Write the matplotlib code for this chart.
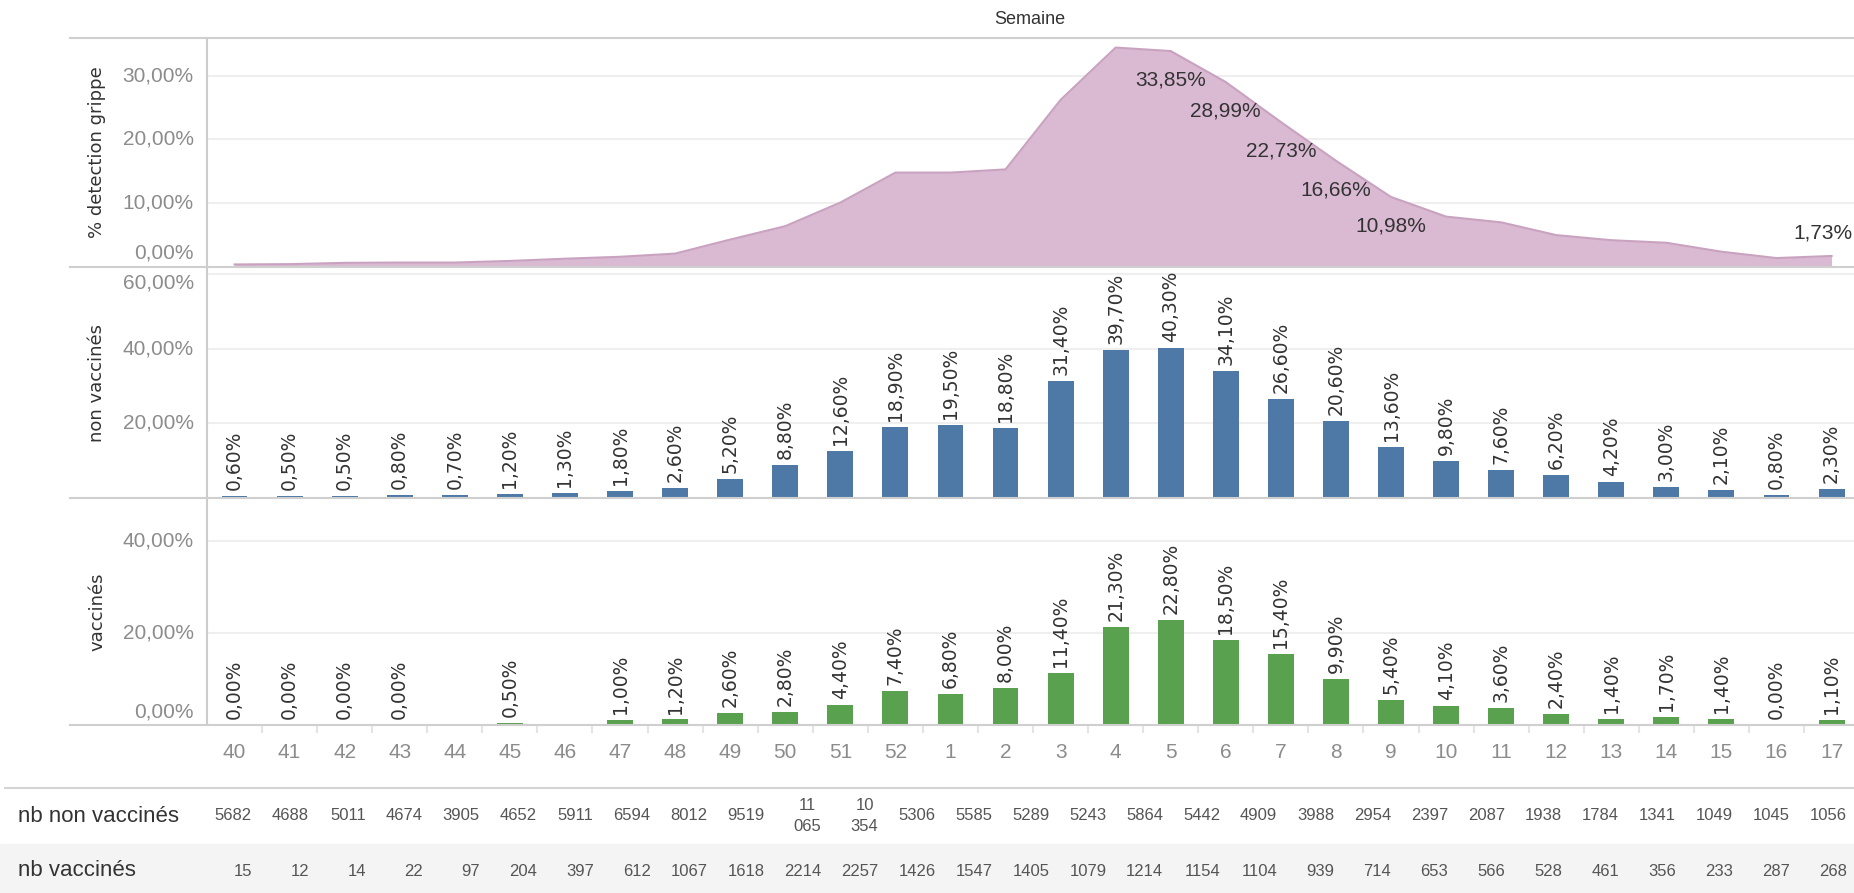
import numpy as np
import matplotlib
matplotlib.use('Agg')
from matplotlib import pyplot as plt
from matplotlib.lines import Line2D
from matplotlib.patches import Rectangle

# semaines (axe commun des trois graphes)
weeks = ['40', '41', '42', '43', '44', '45', '46', '47', '48', '49', '50', '51', '52',
         '1', '2', '3', '4', '5', '6', '7', '8', '9', '10', '11', '12', '13', '14', '15', '16', '17']
# % detection grippe (aire)
grippe = [0.4, 0.45, 0.65, 0.7, 0.7, 0.95, 1.3, 1.6, 2.1, 4.3, 6.4, 10.1, 14.8,
          14.8, 15.3, 26.2, 34.4, 33.85, 28.99, 22.73, 16.66, 10.98, 7.9, 7.0, 5.0, 4.2, 3.8, 2.4, 1.4, 1.73]
grippe_labels = ['5', '6', '7', '8', '9', '17']
# taux non vaccines / vaccines (%)
non_vacc = [0.6, 0.5, 0.5, 0.8, 0.7, 1.2, 1.3, 1.8, 2.6, 5.2, 8.8, 12.6, 18.9,
            19.5, 18.8, 31.4, 39.7, 40.3, 34.1, 26.6, 20.6, 13.6, 9.8, 7.6, 6.2, 4.2, 3.0, 2.1, 0.8, 2.3]
vacc = [0.0, 0.0, 0.0, 0.0, None, 0.5, None, 1.0, 1.2, 2.6, 2.8, 4.4, 7.4,
        6.8, 8.0, 11.4, 21.3, 22.8, 18.5, 15.4, 9.9, 5.4, 4.1, 3.6, 2.4, 1.4, 1.7, 1.4, 0.0, 1.1]
# tableau du bas
nb_non_vacc = [5682, 4688, 5011, 4674, 3905, 4652, 5911, 6594, 8012, 9519, 11065, 10354,
               5306, 5585, 5289, 5243, 5864, 5442, 4909, 3988, 2954, 2397, 2087, 1938,
               1784, 1341, 1049, 1045, 1056]
nb_vacc = [15, 12, 14, 22, 97, 204, 397, 612, 1067, 1618, 2214, 2257,
           1426, 1547, 1405, 1079, 1214, 1154, 1104, 939, 714, 653, 566, 528,
           461, 356, 233, 287, 268]

W, H = 1854, 893
fig = plt.figure(figsize=(W / 100, H / 100), dpi=100)

def fy(px):
    return 1 - px / H

def pct(v):
    return ("%.2f%%" % v).replace('.', ',')

left = 207 / W
x = np.arange(len(weeks))
xlim = (-0.5, -0.5 + (W - 207) / 55.07)
TICKFONT = dict(family='Liberation Sans', size=15, color='#8c8c8c')

def panel(top, bottom, ymax, grid, ticks, title):
    ax = fig.add_axes([left, fy(bottom), 1 - left, (bottom - top) / H])
    ax.set_xlim(*xlim)
    ax.set_ylim(0, ymax)
    for s in ['top', 'right', 'bottom']:
        ax.spines[s].set_visible(False)
    ax.spines['left'].set_color('#cccccc')
    ax.spines['left'].set_linewidth(1.5)
    ax.set_yticks([])
    ax.set_xticks([])
    for g in grid:
        ax.axhline(g, color='#efefef', lw=1.5, zorder=0)
    for v, dy in ticks:
        ax.annotate(pct(v), xy=(0, v), xycoords=ax.get_yaxis_transform(),
                    xytext=(-9.5, dy), textcoords='offset points',
                    ha='right', va='center', **TICKFONT)
    fig.text(97 / W, fy((top + bottom) / 2), title, rotation=90, ha='center', va='center',
             fontsize=13, color='#333333', family='DejaVu Sans')
    return ax

ax1 = panel(38, 267, 35.9, [10, 20, 30], [(30, 0), (20, 0), (10, 0), (0, 10)], '% detection grippe')
ax2 = panel(267, 498, 61.9, [20, 40, 60], [(60, -6.5), (40, 0), (20, 0)], 'non vaccinés')
ax3 = panel(498, 725, 49.3, [20, 40], [(40, 0), (20, 0), (0, 9)], 'vaccinés')

# aire
ax1.fill_between(x, grippe, 0, color='#d9bad2', lw=0, zorder=2)
ax1.plot(x, grippe, color='#c9a2c0', lw=1.5, zorder=3)
for i, w in enumerate(weeks):
    if w in grippe_labels:
        off = (-6, 16.5) if i == len(weeks) - 1 else (0, -21)
        ax1.annotate(pct(grippe[i]), xy=(x[i], grippe[i]), xytext=off, textcoords='offset points',
                     ha='center', va='center', fontsize=15, color='#333333', family='Liberation Sans')

# barres
def bars(ax, vals, color):
    v = np.array([np.nan if a is None else a for a in vals], dtype=float)
    ax.bar(x, np.nan_to_num(v), width=0.47, color=color, zorder=2)
    for i, a in enumerate(v):
        if np.isnan(a):
            continue
        ax.annotate(pct(a), xy=(x[i], a), xytext=(0, 4.3), textcoords='offset points',
                    rotation=90, ha='center', va='bottom', fontsize=13.5, color='#333333',
                    family='DejaVu Sans', zorder=4)

bars(ax2, non_vacc, '#4e79a7')
bars(ax3, vacc, '#59a14f')

ax3.set_xticks(x, weeks)
ax3.set_xticks(x[:-1] + 0.5, minor=True)
ax3.tick_params(axis='x', which='major', length=0, pad=13, labelsize=15, labelcolor='#8c8c8c')
ax3.tick_params(axis='x', which='minor', length=6, width=1.5, color='#e4e4e4')
for lab in ax3.get_xticklabels():
    lab.set_family('Liberation Sans')

# lignes de separation
for yp in [38, 267, 498, 725]:
    fig.add_artist(Line2D([70 / W, 1], [fy(yp), fy(yp)], color='#cfcfcf', lw=1.5))
fig.add_artist(Line2D([5 / W, 1], [fy(788), fy(788)], color='#d4d4d4', lw=1.5))

fig.text(1030 / W, fy(20), 'Semaine', ha='center', va='center', fontsize=13, color='#333333',
         family='Liberation Sans')

# tableau
fig.add_artist(Rectangle((0, 0), 1, (H - 844) / H, transform=fig.transFigure,
                         color='#f4f4f4', zorder=0))
fig.text(18 / W, fy(816), 'nb non vaccinés', ha='left', va='center', fontsize=16,
         color='#333333', family='Liberation Sans')
fig.text(18 / W, fy(871), 'nb vaccinés', ha='left', va='center', fontsize=16,
         color='#333333', family='Liberation Sans')
for k in range(len(nb_non_vacc)):
    xr = (252 + 56.96 * k) / W
    n = nb_non_vacc[k]
    s = str(n) if n < 10000 else "%d\n%03d" % (n // 1000, n % 1000)
    fig.text(xr, fy(816), s, ha='right', va='center', multialignment='center', fontsize=12,
             color='#555555', family='Liberation Sans', linespacing=1.5)
    fig.text(xr, fy(871), str(nb_vacc[k]), ha='right', va='center', fontsize=12,
             color='#555555', family='Liberation Sans')

fig.savefig('out.png', dpi=100)
